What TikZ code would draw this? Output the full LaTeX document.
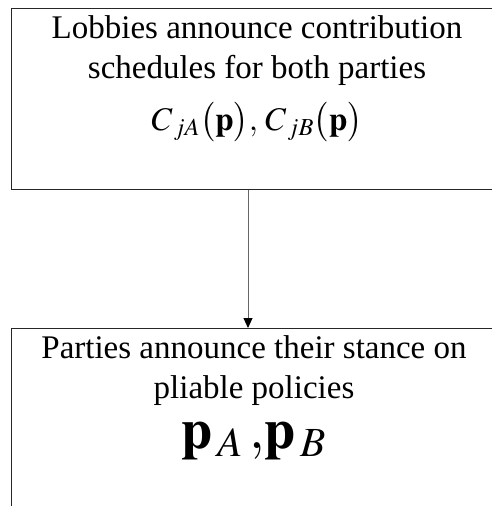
\documentclass[tikz,border=0pt]{standalone}
\usepackage{mathptmx}
\usepackage{fontspec}
\setmainfont{Liberation Serif}
\usetikzlibrary{arrows.meta}

\begin{document}
\begin{tikzpicture}[x=1pt, y=-1pt,
  stagebox/.style={draw=black!85, line width=1.3pt, minimum width=498pt,
    minimum height=181pt, anchor=north west, inner sep=0pt},
  stagetext/.style={anchor=north, align=center, inner sep=0pt,
    font=\fontsize{33}{40}\selectfont},
  flow/.style={draw=black!60, line width=0.9pt,
    -{Triangle[length=10pt, width=9pt, color=black]}}]
  \useasboundingbox (0, 0) rectangle (491, 506);

  % the two stages
  \node[stagebox] (lobby) at (11, 8) {};
  \node[stagebox] (parties) at (11, 328) {};

  \node[stagetext] (lobbytext) at (257, 15)
    {Lobbies announce contribution\\ schedules for both parties\\[12pt]
     $C_{\,jA}\bigl(\mathbf{p}\bigr),\, C_{\,jB}\bigl(\mathbf{p}\bigr)$};
  \node[stagetext] (partiestext) at (254, 335)
    {Parties announce their stance on\\ pliable policies\\[10pt]
     {\fontsize{56}{56}\selectfont
      $\mathbf{p}_{\,A}\,\mathbf{,}\mathbf{p}_{\,B}$}};

  \draw[flow] (lobby.south -| {(248, 0)}) -- (parties.north -| {(248, 0)});
\end{tikzpicture}
\end{document}
